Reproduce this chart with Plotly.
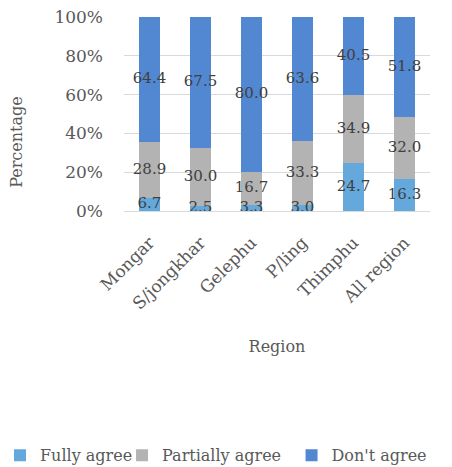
import plotly.graph_objects as go

regions = ["Mongar", "S/jongkhar", "Gelephu", "P/ling", "Thimphu", "All region"]
fully_agree = [6.7, 2.5, 3.3, 3.0, 24.7, 16.3]
partially_agree = [28.9, 30.0, 16.7, 33.3, 34.9, 32.0]
dont_agree = [64.4, 67.5, 80.0, 63.6, 40.5, 51.8]

series = [
    ("Fully agree", fully_agree, "#64A8DC", "legend"),
    ("Partially agree", partially_agree, "#B3B3B3", "legend2"),
    ("Don't agree", dont_agree, "#5287D1", "legend3"),
]

FONT = "DejaVu Serif"
TXT = "#595959"

fig = go.Figure()
base = [0.0] * len(regions)
label_x, label_y, label_t = [], [], []
for name, vals, color, leg in series:
    fig.add_trace(go.Bar(
        x=regions, y=vals, name=name, legend=leg,
        marker=dict(color=color, line=dict(width=0)),
        hoverinfo="skip",
    ))
    # value labels sit at the middle of each stacked segment
    for i, v in enumerate(vals):
        label_x.append(regions[i])
        label_y.append(base[i] + v / 2)
        label_t.append(f"{v:.1f}")
        base[i] += v

# labels drawn above every segment so small ones stay readable
fig.add_trace(go.Scatter(
    x=label_x, y=label_y, text=label_t, mode="text",
    textfont=dict(family=FONT, size=15, color="#404040"),
    showlegend=False, hoverinfo="skip", cliponaxis=False,
))


def legend_box(x):
    # one entry per legend box so the row of keys spreads across the bottom
    return dict(
        orientation="h",
        xref="container", yref="container",
        x=x, y=0.025, xanchor="left", yanchor="middle",
        font=dict(family=FONT, size=16, color=TXT),
        itemwidth=30, bgcolor="rgba(0,0,0,0)",
    )


fig.update_layout(
    barmode="stack",
    bargap=0.57,
    width=452, height=467,
    margin=dict(l=124, r=22, t=17, b=256, autoexpand=False),
    paper_bgcolor="white", plot_bgcolor="white",
    font=dict(family=FONT, size=16, color=TXT),
    showlegend=True,
    legend=legend_box(-0.035),
    legend2=legend_box(0.27),
    legend3=legend_box(0.645),
    xaxis=dict(
        title=dict(text="Region", font=dict(family=FONT, size=16, color=TXT), standoff=28),
        tickangle=-45,
        tickfont=dict(family=FONT, size=17, color=TXT),
        showline=True, linecolor="#D9D9D9", linewidth=1,
        showgrid=False,
        ticks="outside", ticklen=14, tickcolor="rgba(0,0,0,0)",
    ),
    yaxis=dict(
        range=[0, 100],
        tickvals=[0, 20, 40, 60, 80, 100],
        ticktext=["0%", "20%", "40%", "60%", "80%", "100%"],
        tickfont=dict(family=FONT, size=17, color=TXT),
        ticklabelstandoff=20,
        showgrid=True, gridcolor="#D9D9D9", gridwidth=1,
        zeroline=False, showline=False,
    ),
    annotations=[dict(
        text="Percentage", textangle=-90,
        xref="paper", yref="paper", x=-0.35, y=0.356,
        xanchor="center", yanchor="middle", showarrow=False,
        font=dict(family=FONT, size=16, color=TXT),
    )],
)

fig.write_html("out.html")
